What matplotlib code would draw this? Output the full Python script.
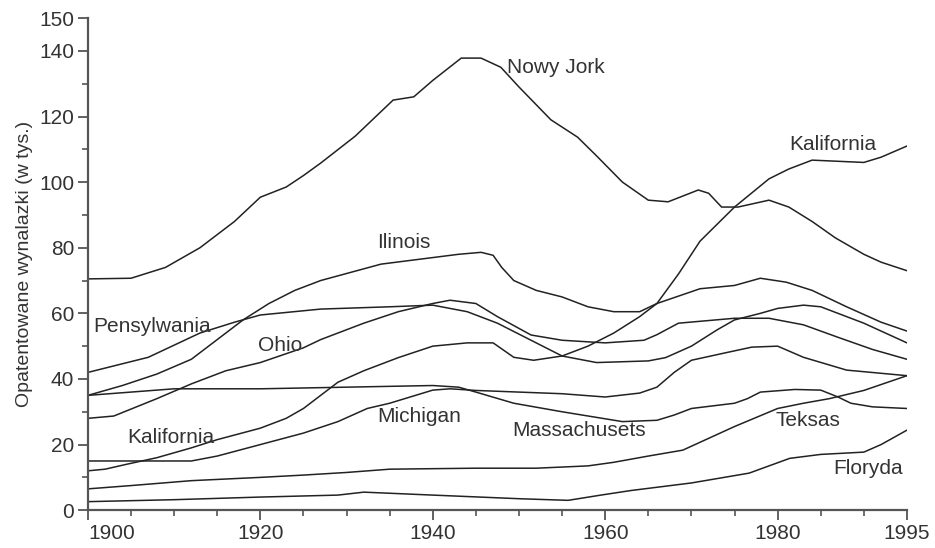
import numpy as np
import matplotlib
matplotlib.use("Agg")
import matplotlib.pyplot as plt
from matplotlib.ticker import MultipleLocator, FixedLocator

plt.rcParams['font.family'] = ['Liberation Sans', 'DejaVu Sans']

# values (thousands of patents)
ny_years = [1900, 1905, 1909, 1913, 1917, 1920, 1923, 1925, 1927, 1931, 1935.4, 1937.8, 1940,
            1943.3, 1945.6, 1947.9, 1950, 1953.7, 1956.8, 1959, 1962, 1965, 1967.3, 1970.8,
            1972, 1973.5, 1975.4, 1979, 1981.3, 1984, 1986.7, 1990, 1992, 1995]
ny_vals = [70.5, 70.7, 74, 80, 88, 95.4, 98.5, 102, 105.8, 114, 125, 126, 131,
           137.8, 137.8, 135, 129, 119, 113.7, 108, 100, 94.5, 94, 97.6,
           96.6, 92.4, 92.4, 94.5, 92.4, 88, 83, 78, 75.6, 73]

ca_years = [1900, 1902, 1904.5, 1908, 1912, 1915, 1920, 1923, 1925, 1927, 1929, 1932, 1936,
            1940, 1944, 1947, 1949.4, 1951.7, 1955, 1958, 1961, 1964, 1966, 1968.5, 1971,
            1975, 1979, 1981.3, 1984, 1990, 1992, 1995]
ca_vals = [12, 12.5, 14, 16, 19, 21.5, 25, 28, 31, 35, 39, 42.5, 46.5,
           50, 51, 51, 46.6, 45.7, 47, 50, 54, 59, 63, 72, 82,
           92.4, 101, 104, 106.7, 106, 107.6, 111]

il_years = [1900, 1904, 1908, 1912, 1915, 1918, 1921, 1924, 1927, 1934, 1940, 1943, 1945.6,
            1947, 1948, 1949.4, 1952, 1955, 1958, 1961, 1964, 1966, 1971, 1975, 1978, 1981,
            1984, 1988, 1992, 1995]
il_vals = [35, 38, 41.5, 46, 52, 58, 63, 67, 70, 75, 77, 78, 78.6,
           77.7, 74, 70, 67, 65, 62, 60.5, 60.5, 63, 67.5, 68.5, 70.7, 69.5,
           67, 62, 57.3, 54.6]

pa_years = [1900, 1907, 1913, 1917, 1920, 1927, 1935, 1940, 1944, 1947.5, 1951.4, 1955,
            1959, 1965, 1967, 1970, 1973, 1975, 1978, 1980, 1983, 1985, 1990, 1995]
pa_vals = [42, 46.6, 54, 57.3, 59.5, 61.3, 62, 62.5, 60.5, 57, 51.8, 47,
           45, 45.5, 46.5, 50, 55, 58, 60, 61.5, 62.5, 62, 57, 51]

oh_years = [1900, 1903, 1908, 1912, 1916, 1920, 1925, 1927, 1932, 1936, 1940, 1942, 1945,
            1947.5, 1951.4, 1955, 1960, 1964.5, 1966, 1968.5, 1975, 1979, 1983, 1987, 1991, 1995]
oh_vals = [28, 28.7, 34, 38.5, 42.5, 45, 49.5, 52, 57, 60.5, 63, 64, 63,
           59, 53.4, 51.8, 51, 51.8, 53.5, 57, 58.5, 58.5, 56.5, 52.7, 49, 46]

ma_years = [1900, 1905, 1910, 1920, 1930, 1940, 1943, 1945, 1949.4, 1955, 1962, 1966, 1968,
            1970, 1975, 1976.5, 1978, 1982, 1985, 1987, 1988.5, 1991, 1995]
ma_vals = [35, 36, 37, 37, 37.5, 38, 37.5, 36, 32.6, 30, 27, 27.4, 29,
           31, 32.6, 34, 36, 36.8, 36.6, 34.5, 32.6, 31.5, 31]

mi_years = [1900, 1905, 1912, 1915, 1920, 1925, 1929, 1932.4, 1935, 1940, 1942, 1945, 1950,
            1955, 1960, 1964, 1966, 1968, 1970, 1974, 1977, 1980, 1983, 1988, 1995]
mi_vals = [15, 15, 15, 16.5, 20, 23.5, 27, 31, 32.6, 36.6, 37, 36.5, 36,
           35.5, 34.5, 35.7, 37.5, 42, 45.7, 48, 49.7, 50, 46.6, 42.7, 41]

tx_years = [1900, 1905, 1912, 1920, 1925, 1930, 1935, 1945, 1952, 1958, 1961, 1965, 1969,
            1975, 1980, 1983, 1986, 1990, 1995]
tx_vals = [6.5, 7.5, 9, 10, 10.7, 11.5, 12.5, 12.8, 12.8, 13.5, 14.6, 16.5, 18.3,
           25.5, 31, 32.6, 34, 36.5, 41]

fl_years = [1900, 1910, 1920, 1929, 1932, 1940, 1950, 1955.7, 1959.5, 1963, 1970, 1976.7,
            1981.4, 1985, 1990, 1992, 1995]
fl_vals = [2.6, 3.2, 4, 4.6, 5.5, 4.6, 3.5, 3, 4.6, 6, 8.3, 11.3,
           15.8, 17, 17.7, 20, 24.4]

series = [(ny_years, ny_vals), (ca_years, ca_vals), (il_years, il_vals), (pa_years, pa_vals),
          (oh_years, oh_vals), (ma_years, ma_vals), (mi_years, mi_vals), (tx_years, tx_vals),
          (fl_years, fl_vals)]

# labels: text, x (year), y (value)
labels = [("Nowy Jork", 1948.6, 135), ("Kalifornia", 1981.3, 111.5), ("Ilinois", 1933.6, 81.7),
          ("Pensylwania", 1900.6, 56), ("Ohio", 1919.7, 50.3), ("Kalifornia", 1904.6, 22.3),
          ("Michigan", 1933.6, 28.7), ("Massachusets", 1949.2, 24.4), ("Teksas", 1979.8, 27.4),
          ("Floryda", 1986.5, 12.8)]

fig = plt.figure(figsize=(9.35, 5.48), dpi=100)
ax = fig.add_axes([0.094, 0.069, 0.876, 0.898])

for yrs, vals in series:
    ax.plot(yrs, vals, color='#222222', lw=1.1)

for txt, x, y in labels:
    ax.text(x, y, txt, fontsize=15, color='#333333', va='center', ha='left')

ax.set_xlim(1900, 1995)
ax.set_ylim(0, 150)
ax.xaxis.set_major_locator(FixedLocator([1900, 1920, 1940, 1960, 1980, 1995]))
ax.xaxis.set_minor_locator(MultipleLocator(5))
ax.yaxis.set_major_locator(FixedLocator([0, 20, 40, 60, 80, 100, 120, 140, 150]))
ax.yaxis.set_minor_locator(MultipleLocator(10))

for s in ['top', 'right']:
    ax.spines[s].set_visible(False)
for s in ['left', 'bottom']:
    ax.spines[s].set_color('#555555')
    ax.spines[s].set_linewidth(1.6)

ax.tick_params(which='major', length=7, width=1.3, color='#555555', labelsize=15,
               labelcolor='#333333', pad=3)
ax.tick_params(which='minor', length=4, width=1.2, color='#555555')
ax.get_xticklabels()[0].set_horizontalalignment('left')

ax.set_ylabel("Opatentowane wynalazki (w tys.)", fontsize=14, color='#333333', labelpad=4)

fig.savefig("out.png", dpi=100)
